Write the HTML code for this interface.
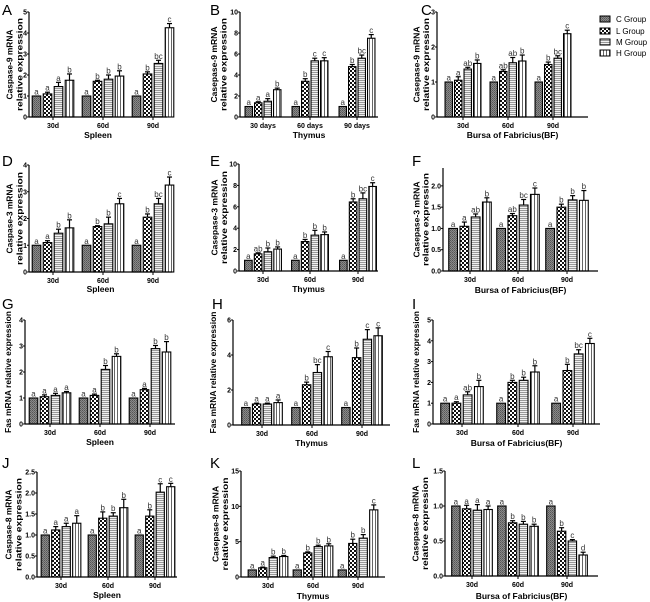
<!DOCTYPE html>
<html><head><meta charset="utf-8"><style>
body{margin:0;background:#fff;}
svg{display:block;font-family:"Liberation Sans",Arial,sans-serif;}
.tk{font-size:7px;font-weight:bold;}
.ti{font-size:8.5px;font-weight:bold;}
.xt{font-size:8.5px;font-weight:bold;}
.lt{font-size:15px;}
.sig{font-size:8px;fill:#333;}
</style></head><body>
<svg id="fig" width="650" height="602" viewBox="0 0 650 602">
<defs>
<pattern id="pC" width="2" height="2" patternUnits="userSpaceOnUse"><rect width="2" height="2" fill="#8a8a8a"/><rect width="1" height="1" fill="#555"/><rect x="1" y="1" width="1" height="1" fill="#666"/></pattern>
<pattern id="pL" width="4" height="4" patternUnits="userSpaceOnUse"><rect width="4" height="4" fill="#fff"/><rect width="2" height="2" fill="#111"/><rect x="2" y="2" width="2" height="2" fill="#111"/></pattern>
<pattern id="pM" width="2" height="2" patternUnits="userSpaceOnUse"><rect width="2" height="2" fill="#f0f0f0"/><rect width="2" height="1" fill="#999"/></pattern>
<pattern id="pH" width="3" height="3" patternUnits="userSpaceOnUse"><rect width="3" height="3" fill="#fff"/><rect width="1" height="3" fill="#666"/></pattern>
</defs>
</svg>
<script>
const groupNames = ["C Group","L Group","M Group","H Group"];
const A_vals = [[1,1.1,1.45,1.75],[1,1.7,1.8,1.95],[1,2.05,2.55,4.25]];
const A_errs = [[0,0.08,0.2,0.3],[0,0.05,0.2,0.25],[0,0.1,0.15,0.2]];
const A_sig = [["a","a","a","b"],["a","b","b","b"],["a","b","bc","c"]];
const B_vals = [[1,1.35,1.5,2.6],[1,3.4,5.35,5.35],[1,4.8,5.6,7.5]];
const B_errs = [[0,0.1,0.25,0.15],[0,0.25,0.25,0.3],[0,0.2,0.3,0.35]];
const B_sig = [["a","a","a","b"],["a","b","c","c"],["a","b","bc","c"]];
const C_vals = [[1,1.05,1.37,1.53],[1,1.3,1.55,1.6],[1,1.5,1.68,2.38]];
const C_errs = [[0,0.1,0.05,0.1],[0,0.05,0.15,0.17],[0,0.07,0.07,0.1]];
const C_sig = [["a","a","ab","b"],["a","ab","ab","b"],["a","b","bc","c"]];
const D_vals = [[1,1.1,1.45,1.65],[1,1.7,1.8,2.55],[1,2.05,2.55,3.25]];
const D_errs = [[0,0.07,0.15,0.3],[0,0.03,0.25,0.2],[0,0.12,0.2,0.3]];
const D_sig = [["a","a","b","b"],["a","b","b","c"],["a","b","bc","c"]];
const E_vals = [[1,1.6,1.8,2.05],[1,2.75,3.35,3.4],[1,6.45,6.75,7.9]];
const E_errs = [[0,0.1,0.35,0.2],[0,0.2,0.45,0.25],[0,0.3,0.55,0.35]];
const E_sig = [["a","ab","b","b"],["a","b","b","b"],["a","b","bc","c"]];
const F_vals = [[1,1.05,1.27,1.62],[1,1.3,1.55,1.8],[1,1.5,1.67,1.66]];
const F_errs = [[0,0.1,0.07,0.1],[0,0.05,0.13,0.15],[0,0.07,0.1,0.23]];
const F_sig = [["a","a","ab","b"],["a","ab","bc","c"],["a","b","b","b"]];
const G_vals = [[1,1.05,1.1,1.2],[1,1.1,2.1,2.6],[1,1.32,2.9,2.77]];
const G_errs = [[0,0.07,0.08,0.05],[0,0.05,0.15,0.1],[0,0.05,0.12,0.4]];
const G_sig = [["a","a","a","a"],["a","a","b","b"],["a","a","b","b"]];
const H_vals = [[1,1.2,1.2,1.28],[1,2.3,3.0,3.9],[1,3.85,4.9,5.1]];
const H_errs = [[0,0.05,0.05,0.15],[0,0.15,0.45,0.3],[0,0.55,0.55,0.45]];
const H_sig = [["a","a","a","a"],["a","b","bc","c"],["a","b","c","c"]];
const I_vals = [[1,1,1.4,1.8],[1,2,2.1,2.5],[1,2.57,3.37,3.87]];
const I_errs = [[0,0.07,0.15,0.3],[0,0.1,0.15,0.3],[0,0.3,0.2,0.25]];
const I_sig = [["a","a","ab","b"],["a","b","b","b"],["a","b","bc","c"]];
const J_vals = [[1,1.12,1.2,1.28],[1,1.4,1.45,1.65],[1,1.45,2.02,2.15]];
const J_errs = [[0,0.08,0.08,0.18],[0,0.15,0.08,0.2],[0,0.15,0.2,0.08]];
const J_sig = [["a","a","a","a"],["a","b","b","b"],["a","b","c","c"]];
const K_vals = [[1,1.3,2.75,2.9],[1,3.4,4.3,4.4],[1,4.75,5.5,9.5]];
const K_errs = [[0,0.1,0.2,0.15],[0,0.15,0.2,0.3],[0,0.6,0.5,0.7]];
const K_sig = [["a","a","b","b"],["a","b","b","b"],["a","b","b","c"]];
const L_vals = [[1,0.96,0.94,0.95],[1,0.76,0.74,0.71],[1,0.64,0.5,0.3]];
const L_errs = [[0,0.05,0.08,0.05],[0,0.03,0.04,0.03],[0,0.05,0.02,0.04]];
const L_sig = [["a","a","a","a"],["a","b","b","b"],["a","b","c","d"]];
const ticks5 = [0,1,2,3,4,5], ticks10=[0,2,4,6,8,10], ticks3=[0,1,2,3], ticks4=[0,1,2,3,4];
const ticksF=[0,0.5,1.0,1.5,2.0], ticks6=[0,2,4,6], ticksJ=[0,0.5,1.0,1.5,2.0,2.5], ticks15=[0,5,10,15], ticksL=[0,0.5,1.0,1.5];
const catsD = ["30d","60d","90d"], catsDays=["30 days","60 days","90 days"];

const NS="http://www.w3.org/2000/svg";
const svg=document.getElementById('fig');
function mk(tag,at,parent){const e=document.createElementNS(NS,tag);for(const k in at)e.setAttribute(k,at[k]);(parent||svg).appendChild(e);return e;}
const fills=["url(#pC)","url(#pL)","url(#pM)","url(#pH)"];
function tlen(s){ if(s.startsWith("Fas")) return 122; if(s.startsWith("relative")) return 93; if(s.startsWith("Casepase")) return 76; return 70; }

const panels=[
 {id:"A",lx:2,ly:15,vals:A_vals,errs:A_errs,sig:A_sig,ax:29,xe:167,top:12,base:117,ymax:5,ticks:ticks5,dec:0,g:[53,103,153],span:44,title:["Caspase-9 mRNA","relative expression"],tx:[12.5,22.5],cats:catsD,xl:"Spleen",xly:138},
 {id:"B",lx:210,ly:15,vals:B_vals,errs:B_errs,sig:B_sig,ax:240,xe:378,top:12,base:117,ymax:10,ticks:ticks10,dec:0,g:[263,310,357],span:38,title:["Casepase-9 mRNA","relative expression"],tx:[217,226.5],cats:catsDays,xl:"Thymus",xly:138},
 {id:"C",lx:421,ly:15,vals:C_vals,errs:C_errs,sig:C_sig,ax:437,xe:588,top:12,base:117,ymax:3,ticks:ticks3,dec:0,g:[463,508,553],span:38,title:["Casepase-9 mRNA","relative expression"],tx:[419.5,429],cats:catsD,xl:"Bursa of Fabricius(BF)",xly:138},
 {id:"D",lx:2,ly:166,vals:D_vals,errs:D_errs,sig:D_sig,ax:29,xe:172,top:165,base:272,ymax:4,ticks:ticks4,dec:0,g:[53,103,153],span:44,title:["Caspase-3 mRNA","relative expression"],tx:[12.5,22.5],cats:catsD,xl:"Spleen",xly:292},
 {id:"E",lx:210,ly:166,vals:E_vals,errs:E_errs,sig:E_sig,ax:239,xe:378,top:164,base:271,ymax:10,ticks:ticks10,dec:0,g:[263,310,358],span:39,title:["Casepase-3 mRNA","relative expression"],tx:[217.5,227],cats:catsD,xl:"Thymus",xly:292},
 {id:"F",lx:412,ly:166,vals:F_vals,errs:F_errs,sig:F_sig,ax:443,xe:598,top:168,base:271,ymax:2.42,ticks:ticksF,dec:1,g:[470,518,567],span:45,title:["Casepase-3 mRNA","relative expression"],tx:[419.5,428.5],cats:catsD,xl:"Bursa of Fabricius(BF)",xly:293},
 {id:"G",lx:2,ly:309,vals:G_vals,errs:G_errs,sig:G_sig,ax:25,xe:175,top:320,base:424,ymax:4,ticks:ticks4,dec:0,g:[50,100,150],span:44,title:["Fas mRNA relative expression"],tx:[11],cats:catsD,xl:"Spleen",xly:445},
 {id:"H",lx:212,ly:309,vals:H_vals,errs:H_errs,sig:H_sig,ax:233,xe:390,top:320,base:425,ymax:6,ticks:ticks6,dec:0,g:[262,312,362],span:43,title:["Fas mRNA relative expression"],tx:[216],cats:catsD,xl:"Thymus",xly:446},
 {id:"I",lx:412,ly:309,vals:I_vals,errs:I_errs,sig:I_sig,ax:433,xe:600,top:320,base:424,ymax:5,ticks:ticks5,dec:0,g:[462,518,573],span:45,title:["Fas mRNA relative expression"],tx:[419],cats:catsD,xl:"Bursa of Fabricius(BF)",xly:446},
 {id:"J",lx:2,ly:468,vals:J_vals,errs:J_errs,sig:J_sig,ax:37,xe:177,top:472,base:577,ymax:2.5,ticks:ticksJ,dec:1,g:[61,108,155],span:42,title:["Caspase-8 mRNA","relative expression"],tx:[11.5,21.5],cats:catsD,xl:"Spleen",xly:598},
 {id:"K",lx:210,ly:468,vals:K_vals,errs:K_errs,sig:K_sig,ax:241,xe:385,top:471,base:577,ymax:15,ticks:ticks15,dec:0,g:[268,313,358],span:42,title:["Casepase-8 mRNA","relative expression"],tx:[218.5,228],cats:catsD,xl:"Thymus",xly:599},
 {id:"L",lx:412,ly:468,vals:L_vals,errs:L_errs,sig:L_sig,ax:445,xe:598,top:471,base:576,ymax:1.5,ticks:ticksL,dec:1,g:[472,518,567],span:43,title:["Casepase-8 mRNA","relative expression"],tx:[418.5,428],cats:catsD,xl:"Bursa of Fabricius(BF)",xly:599}
];

panels.forEach(p=>{
 const gp=mk('g',{});
 
 
 const y=v=>p.base-(v/p.ymax)*(p.base-p.top);
 const lt=mk('text',{x:p.lx,y:p.ly,class:'lt'},gp); lt.textContent=p.id;
 
 
 const slot=p.span/4, bw=slot*0.78;
 p.vals.forEach((grp,gi)=>{
  grp.forEach((v,bi)=>{
   const x0=p.g[gi]-p.span/2+bi*slot+(slot-bw)/2;
   const yt=y(v), e=p.errs[gi][bi], ye=y(v+e), cx=x0+bw/2;
   if(e>0){
    mk('line',{x1:cx,x2:cx,y1:yt,y2:ye,stroke:'#000','stroke-width':1.2},gp);
    mk('line',{x1:cx-2.5,x2:cx+2.5,y1:ye,y2:ye,stroke:'#000','stroke-width':1.2},gp);
   }
   const r=mk('rect',{x:x0,y:yt,width:bw,height:p.base-yt,fill:fills[bi],stroke:'#000','stroke-width':1.1},gp);
   
   
   const s=mk('text',{x:cx,y:ye-1.5,'text-anchor':'middle',class:'sig'},gp); s.textContent=p.sig[gi][bi];
   
   
  });
  mk('line',{x1:p.g[gi],x2:p.g[gi],y1:p.base,y2:p.base+3,stroke:'#000','stroke-width':1},gp);
  const c=mk('text',{x:p.g[gi],y:p.base+11,'text-anchor':'middle',class:'tk'},gp); c.textContent=p.cats[gi];
  
  
 });
 mk('line',{x1:p.ax,x2:p.ax,y1:p.top,y2:p.base,stroke:'#000','stroke-width':1.2},gp);
 mk('line',{x1:p.ax,x2:p.xe,y1:p.base,y2:p.base,stroke:'#000','stroke-width':1.2},gp);
 p.ticks.forEach(t=>{
  const ty=y(t);
  mk('line',{x1:p.ax-2,x2:p.ax,y1:ty,y2:ty,stroke:'#000','stroke-width':1},gp);
  const tl=mk('text',{x:p.ax-2,y:ty+2.5,'text-anchor':'end',class:'tk'},gp); tl.textContent=t.toFixed(p.dec);
  
  
 });
 const my=(p.top+p.base)/2;
 p.title.forEach((line,i)=>{
  const tt=mk('text',{x:0,y:0,'text-anchor':'middle',class:'ti',textLength:tlen(line),lengthAdjust:'spacingAndGlyphs',transform:`translate(${p.tx[i]},${my}) rotate(-90)`},gp);
  tt.textContent=line;
  
  
 });
 const xl=mk('text',{x:(p.ax+p.xe)/2,y:p.xly,'text-anchor':'middle',class:'xt'},gp); xl.textContent=p.xl;
 
 
});

const legY=[19,31,42,53];
const lg=mk('g',{});


groupNames.forEach((n,i)=>{
 mk('rect',{x:600,y:legY[i]-3,width:10,height:6,fill:fills[i],stroke:'#000','stroke-width':1},lg);
 const t=mk('text',{x:616,y:legY[i]+3,style:'font-size:8px'},lg); t.textContent=n;
 
 
});
</script>
</body></html>
